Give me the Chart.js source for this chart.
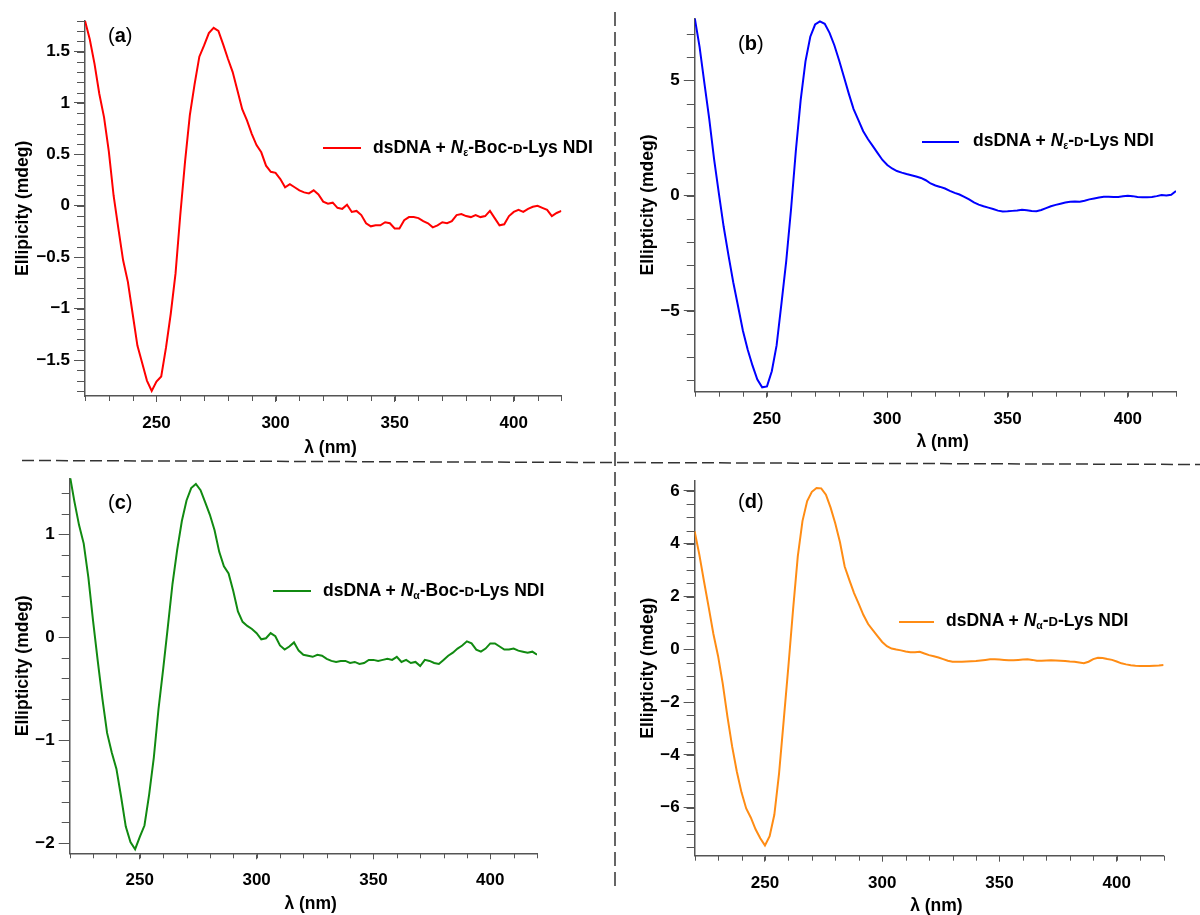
<!DOCTYPE html>
<html>
<head>
<meta charset="utf-8">
<script src="https://cdn.jsdelivr.net/npm/chart.js@4/dist/chart.umd.min.js"></script>
<style>
  body { margin: 0; background: #fff; }
  #page { position: relative; width: 1200px; height: 915px; overflow: hidden; font-family: 'Liberation Sans', Arial, sans-serif; }
  canvas { position: absolute; }
  .tag { position: absolute; font-size: 20px; line-height: 20px; color: #000; }
  .key { position: absolute; height: 2px; }
  .lbl { position: absolute; font-size: 17.5px; line-height: 17.5px; font-weight: bold; white-space: nowrap; color: #000; }
  .lbl sub { font-size: 0.6em; vertical-align: -0.3em; line-height: 0; }
  .sc { font-size: 0.75em; }
</style>
</head>
<body>
<div id="page">
  <canvas id="frame" width="1200" height="915" style="left:0;top:0"></canvas>
  <canvas id="chartA"></canvas>
  <canvas id="chartB"></canvas>
  <canvas id="chartC"></canvas>
  <canvas id="chartD"></canvas>

  <div class="tag" style="left:108px;top:25px">(<b>a</b>)</div>
  <div class="tag" style="left:738px;top:33px">(<b>b</b>)</div>
  <div class="tag" style="left:108px;top:492px">(<b>c</b>)</div>
  <div class="tag" style="left:738px;top:491px">(<b>d</b>)</div>

  <div class="key" style="left:323px;top:147px;width:38px;background:#ff0000"></div>
  <div class="lbl" style="left:373px;top:138.5px">dsDNA + <i>N</i><sub>ε</sub>-Boc-<span class="sc">D</span>-Lys NDI</div>
  <div class="key" style="left:922px;top:141px;width:37px;background:#0000ff"></div>
  <div class="lbl" style="left:973px;top:132px">dsDNA + <i>N</i><sub>ε</sub>-<span class="sc">D</span>-Lys NDI</div>
  <div class="key" style="left:273px;top:590px;width:38px;background:#118a11"></div>
  <div class="lbl" style="left:323px;top:582px">dsDNA + <i>N</i><sub>α</sub>-Boc-<span class="sc">D</span>-Lys NDI</div>
  <div class="key" style="left:899px;top:621px;width:35px;background:#ff8c14"></div>
  <div class="lbl" style="left:946px;top:612px">dsDNA + <i>N</i><sub>α</sub>-<span class="sc">D</span>-Lys NDI</div>
</div>
<script>
Chart.defaults.font.family = "'Liberation Sans', Arial, sans-serif";
Chart.defaults.font.weight = 'bold';
Chart.defaults.color = '#000';

// wavelength grid (nm)
const wavelength = [220, 222, 224, 226, 228, 230, 232, 234, 236, 238,
  240, 242, 244, 246, 248, 250, 252, 254, 256, 258,
  260, 262, 264, 266, 268, 270, 272, 274, 276, 278,
  280, 282, 284, 286, 288, 290, 292, 294, 296, 298,
  300, 302, 304, 306, 308, 310, 312, 314, 316, 318,
  320, 322, 324, 326, 328, 330, 332, 334, 336, 338,
  340, 342, 344, 346, 348, 350, 352, 354, 356, 358,
  360, 362, 364, 366, 368, 370, 372, 374, 376, 378,
  380, 382, 384, 386, 388, 390, 392, 394, 396, 398,
  400, 402, 404, 406, 408, 410, 412, 414, 416, 418, 420];

// (a) dsDNA + Ne-Boc-D-Lys NDI
const ellipA = [1.80, 1.62, 1.38, 1.09, 0.86, 0.53, 0.10, -0.22, -0.53, -0.74,
  -1.05, -1.36, -1.53, -1.70, -1.80, -1.71, -1.66, -1.38, -1.05, -0.66,
  -0.09, 0.43, 0.88, 1.18, 1.45, 1.56, 1.68, 1.73, 1.70, 1.57,
  1.43, 1.30, 1.12, 0.94, 0.83, 0.70, 0.59, 0.52, 0.39, 0.33,
  0.32, 0.26, 0.18, 0.21, 0.18, 0.15, 0.13, 0.12, 0.15, 0.11,
  0.04, 0.02, 0.03, -0.02, -0.03, 0.01, -0.06, -0.05, -0.09, -0.17,
  -0.20, -0.19, -0.19, -0.16, -0.17, -0.22, -0.22, -0.14, -0.11, -0.11,
  -0.12, -0.15, -0.17, -0.21, -0.19, -0.16, -0.17, -0.15, -0.09, -0.08,
  -0.10, -0.11, -0.09, -0.11, -0.10, -0.05, -0.12, -0.19, -0.18, -0.10,
  -0.06, -0.04, -0.06, -0.03, -0.01, 0.00, -0.02, -0.04, -0.10, -0.07, -0.05];

// (b) dsDNA + Ne-D-Lys NDI
const ellipB = [7.70, 6.45, 4.88, 3.33, 1.60, 0.10, -1.35, -2.59, -3.77, -4.81,
  -5.86, -6.69, -7.38, -7.98, -8.32, -8.28, -7.62, -6.50, -4.70, -2.84,
  -0.59, 1.95, 4.15, 5.83, 6.90, 7.43, 7.57, 7.46, 7.07, 6.53,
  5.87, 5.15, 4.43, 3.76, 3.28, 2.80, 2.45, 2.15, 1.85, 1.55,
  1.33, 1.18, 1.07, 1.00, 0.94, 0.89, 0.83, 0.77, 0.67, 0.53,
  0.44, 0.38, 0.31, 0.21, 0.12, 0.05, -0.05, -0.16, -0.29, -0.39,
  -0.46, -0.52, -0.58, -0.65, -0.69, -0.68, -0.66, -0.64, -0.61, -0.63,
  -0.67, -0.68, -0.62, -0.54, -0.46, -0.40, -0.35, -0.30, -0.26, -0.25,
  -0.26, -0.22, -0.16, -0.12, -0.08, -0.05, -0.05, -0.06, -0.06, -0.03,
  0.00, -0.02, -0.06, -0.07, -0.07, -0.06, -0.02, 0.03, 0.01, 0.04, 0.20];

// (c) dsDNA + Na-Boc-D-Lys NDI
const ellipC = [1.58, 1.32, 1.09, 0.91, 0.58, 0.16, -0.23, -0.60, -0.93, -1.12,
  -1.28, -1.55, -1.84, -1.99, -2.06, -1.94, -1.83, -1.53, -1.17, -0.70,
  -0.31, 0.10, 0.52, 0.85, 1.13, 1.33, 1.45, 1.49, 1.43, 1.31,
  1.19, 1.04, 0.83, 0.69, 0.62, 0.45, 0.25, 0.15, 0.11, 0.08,
  0.04, -0.02, -0.01, 0.04, 0.01, -0.08, -0.12, -0.09, -0.05, -0.13,
  -0.17, -0.18, -0.19, -0.17, -0.18, -0.21, -0.23, -0.24, -0.23, -0.23,
  -0.25, -0.24, -0.26, -0.25, -0.22, -0.22, -0.23, -0.22, -0.21, -0.22,
  -0.19, -0.24, -0.22, -0.25, -0.24, -0.28, -0.22, -0.23, -0.25, -0.26,
  -0.22, -0.18, -0.15, -0.11, -0.08, -0.04, -0.06, -0.12, -0.14, -0.11,
  -0.06, -0.06, -0.09, -0.12, -0.12, -0.11, -0.13, -0.14, -0.15, -0.14, -0.17];

// (d) dsDNA + Na-D-Lys NDI
const ellipD = [4.48, 3.60, 2.58, 1.60, 0.59, -0.25, -1.30, -2.55, -3.68, -4.63,
  -5.42, -6.03, -6.38, -6.82, -7.16, -7.43, -7.08, -6.27, -4.72, -2.69,
  -0.64, 1.52, 3.52, 4.86, 5.62, 5.97, 6.11, 6.10, 5.86, 5.37,
  4.77, 4.06, 3.14, 2.62, 2.13, 1.72, 1.30, 0.96, 0.73, 0.50,
  0.28, 0.12, 0.03, -0.01, -0.04, -0.08, -0.11, -0.11, -0.09, -0.16,
  -0.22, -0.26, -0.31, -0.37, -0.43, -0.47, -0.47, -0.47, -0.46, -0.45,
  -0.44, -0.42, -0.40, -0.38, -0.38, -0.39, -0.40, -0.41, -0.41, -0.40,
  -0.39, -0.38, -0.40, -0.43, -0.43, -0.42, -0.41, -0.42, -0.43, -0.44,
  -0.46, -0.47, -0.50, -0.53, -0.47, -0.37, -0.32, -0.33, -0.37, -0.40,
  -0.46, -0.53, -0.57, -0.60, -0.62, -0.63, -0.63, -0.63, -0.62, -0.61, -0.59];

const xTicks = [250, 300, 350, 400];
const yTicksA = [-1.5, -1, -0.5, 0, 0.5, 1, 1.5];
const yTicksB = [-5, 0, 5];
const yTicksC = [-2, -1, 0, 1];
const yTicksD = [-6, -4, -2, 0, 2, 4, 6];

const axisColor = '#555';

// labels as printed: "1" not "1.0", true minus sign
const fmt = v => (v < 0 ? '\u2212' : '') + String(Math.abs(v));

// short unlabeled ticks between the labelled ones
const minorTicks = {
  id: 'minorTicks',
  afterDraw(chart, args, opts) {
    const { ctx, scales: { x, y } } = chart;
    ctx.save();
    ctx.strokeStyle = axisColor;
    ctx.lineWidth = 1;
    ctx.beginPath();
    const nx = Math.round((x.max - x.min) / opts.xStep);
    for (let i = 0; i <= nx; i++) {
      const px = Math.round(x.getPixelForValue(x.min + i * opts.xStep)) + 0.5;
      ctx.moveTo(px, y.bottom);
      ctx.lineTo(px, y.bottom + opts.xLen);
    }
    const k0 = Math.ceil(y.min / opts.yStep - 1e-6);
    const k1 = Math.floor(y.max / opts.yStep + 1e-6);
    for (let k = k0; k <= k1; k++) {
      const py = Math.round(y.getPixelForValue(k * opts.yStep)) + 0.5;
      ctx.moveTo(x.left - opts.yLen, py);
      ctx.lineTo(x.left, py);
    }
    ctx.stroke();
    ctx.restore();
  }
};

function makePanel(id, box, plot, p) {
  const canvas = document.getElementById(id);
  canvas.width = box.w;
  canvas.height = box.h;
  canvas.style.left = box.left + 'px';
  canvas.style.top = box.top + 'px';
  const yWidth = plot.l - box.left;
  const xHeight = box.top + box.h - plot.b;
  new Chart(canvas, {
    type: 'line',
    data: {
      datasets: [{
        data: wavelength.map((w, i) => ({ x: w, y: p.values[i] })),
        borderColor: p.color,
        borderWidth: 2,
        pointRadius: 0,
        tension: 0
      }]
    },
    plugins: [minorTicks],
    options: {
      responsive: false,
      animation: false,
      events: [],
      layout: { padding: { left: 0, top: plot.t - box.top, right: box.left + box.w - plot.r, bottom: 0 } },
      plugins: {
        legend: { display: false },
        tooltip: { enabled: false },
        minorTicks: { xStep: 10, xLen: 5, yStep: p.minor, yLen: 8 }
      },
      scales: {
        x: {
          type: 'linear',
          min: 220,
          max: 420,
          afterBuildTicks: s => { s.ticks = xTicks.map(v => ({ value: v })); },
          afterFit: s => { s.height = xHeight; },
          ticks: { font: { size: 17 }, padding: 11, maxRotation: 0, autoSkip: false },
          grid: { drawOnChartArea: false, tickLength: 6, color: axisColor },
          border: { color: axisColor, width: 1.5 },
          title: { display: true, text: '   λ (nm)', font: { size: 17.5 }, padding: { top: 0, bottom: p.xTitlePad } }
        },
        y: {
          min: p.min,
          max: p.max,
          afterBuildTicks: s => { s.ticks = p.ticks.map(v => ({ value: v })); },
          afterFit: s => { s.width = yWidth; },
          ticks: { font: { size: 17 }, padding: 4, autoSkip: false, callback: v => fmt(v) },
          grid: { drawOnChartArea: false, tickLength: 11, color: axisColor },
          border: { color: axisColor, width: 1.5 },
          title: { display: true, text: p.yTitle, font: { size: 17.5 }, padding: { top: p.yTitlePad, bottom: 0 } }
        }
      }
    }
  });
}

makePanel('chartA', { left: 0, top: 0, w: 600, h: 470 }, { l: 85, r: 561.4, t: 20.7, b: 396 },
  { values: ellipA, color: '#ff0000', min: -1.85, max: 1.80, ticks: yTicksA, minor: 0.1,
    yTitle: 'Ellipicity (mdeg)', yTitlePad: 12.5, xTitlePad: 11.5 });
makePanel('chartB', { left: 615, top: 0, w: 585, h: 470 }, { l: 694.8, r: 1176, t: 18.3, b: 391.7 },
  { values: ellipB, color: '#0000ff', min: -8.51, max: 7.70, ticks: yTicksB, minor: 1,
    yTitle: 'Ellipticity (mdeg)', yTitlePad: 22.5, xTitlePad: 17.8 });
makePanel('chartC', { left: 0, top: 460, w: 600, h: 460 }, { l: 69.7, r: 537, t: 478.3, b: 853.3 },
  { values: ellipC, color: '#118a11', min: -2.10, max: 1.545, ticks: yTicksC, minor: 0.2,
    yTitle: 'Ellipticity (mdeg)', yTitlePad: 12.5, xTitlePad: 5.5 });
makePanel('chartD', { left: 615, top: 460, w: 585, h: 460 }, { l: 694.6, r: 1163.6, t: 480.7, b: 855.7 },
  { values: ellipD, color: '#ff8c14', min: -7.82, max: 6.39, ticks: yTicksD, minor: 0.5,
    yTitle: 'Ellipticity (mdeg)', yTitlePad: 22.5, xTitlePad: 3 });

// dashed separators between the four panels
const fctx = document.getElementById('frame').getContext('2d');
fctx.strokeStyle = '#333';
fctx.lineWidth = 1.5;
fctx.setLineDash([12, 5]);
fctx.beginPath();
fctx.moveTo(22, 460.5);
fctx.lineTo(1200, 464.5);
fctx.stroke();
fctx.setLineDash([14, 6]);
fctx.beginPath();
fctx.moveTo(615, 12);
fctx.lineTo(615, 892);
fctx.stroke();
</script>
</body>
</html>
